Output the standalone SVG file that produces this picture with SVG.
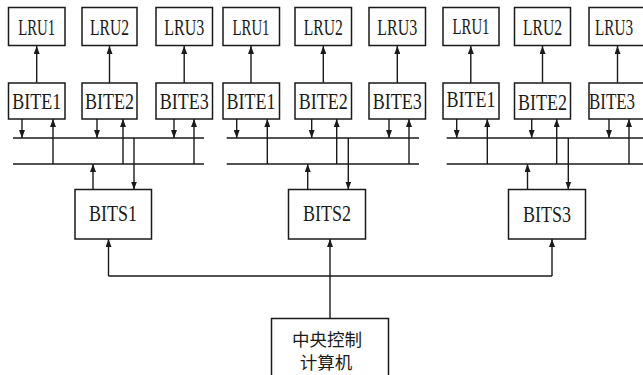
<svg xmlns="http://www.w3.org/2000/svg" width="643" height="375" viewBox="0 0 643 375">
<style>
.box{fill:#fff;stroke:#1a1a1a;stroke-width:1.5}
.ln{fill:none;stroke:#1a1a1a;stroke-width:1.4}
.ar{fill:none;stroke:#1a1a1a;stroke-width:1.4;marker-end:url(#ah)}
.t{font-family:"Liberation Serif","Times New Roman",serif;font-size:22.5px;fill:#1a1a1a;text-anchor:middle;dominant-baseline:central}
.c{font-family:"Noto Sans CJK SC","Noto Sans",sans-serif;font-size:17.5px;fill:#1a1a1a;text-anchor:middle;dominant-baseline:central}
</style>
<defs>
<marker id="ah" viewBox="0 0 8 6" refX="8" refY="3" markerWidth="8" markerHeight="6" markerUnits="userSpaceOnUse" orient="auto">
<path d="M0,0 L8,3 L0,6 z" fill="#1a1a1a"/>
</marker>
</defs>
<rect width="643" height="375" fill="#fff"/>
<g id="connectors">
<line class="ar" x1="36.7" y1="83" x2="36.7" y2="46"/>
<line class="ar" x1="109.5" y1="83" x2="109.5" y2="46"/>
<line class="ar" x1="184.2" y1="83" x2="184.2" y2="46"/>
<line class="ln" x1="13" y1="138" x2="204" y2="138"/>
<line class="ln" x1="13" y1="164" x2="204" y2="164"/>
<line class="ar" x1="22" y1="119" x2="22" y2="138"/>
<line class="ar" x1="53" y1="164" x2="53" y2="119"/>
<line class="ar" x1="97" y1="119" x2="97" y2="138"/>
<line class="ar" x1="123" y1="164" x2="123" y2="119"/>
<line class="ar" x1="174" y1="119" x2="174" y2="138"/>
<line class="ar" x1="194" y1="164" x2="194" y2="119"/>
<line class="ar" x1="134" y1="138" x2="134" y2="189.5"/>
<line class="ar" x1="93" y1="189.5" x2="93" y2="164"/>
<line class="ar" x1="251" y1="83" x2="251" y2="46"/>
<line class="ar" x1="323.3" y1="83" x2="323.3" y2="46"/>
<line class="ar" x1="397.3" y1="83" x2="397.3" y2="46"/>
<line class="ln" x1="226.7" y1="138" x2="419" y2="138"/>
<line class="ln" x1="226.7" y1="164" x2="419" y2="164"/>
<line class="ar" x1="236.7" y1="119" x2="236.7" y2="138"/>
<line class="ar" x1="267.3" y1="164" x2="267.3" y2="119"/>
<line class="ar" x1="311.7" y1="119" x2="311.7" y2="138"/>
<line class="ar" x1="336.7" y1="164" x2="336.7" y2="119"/>
<line class="ar" x1="389" y1="119" x2="389" y2="138"/>
<line class="ar" x1="409" y1="164" x2="409" y2="119"/>
<line class="ar" x1="348.3" y1="138" x2="348.3" y2="189.5"/>
<line class="ar" x1="307.7" y1="189.5" x2="307.7" y2="164"/>
<line class="ar" x1="470.8" y1="83" x2="470.8" y2="46"/>
<line class="ar" x1="542.5" y1="83" x2="542.5" y2="46"/>
<line class="ar" x1="617.5" y1="83" x2="617.5" y2="46"/>
<line class="ln" x1="446.7" y1="138" x2="643" y2="138"/>
<line class="ln" x1="446.7" y1="164" x2="643" y2="164"/>
<line class="ar" x1="456.7" y1="119" x2="456.7" y2="138"/>
<line class="ar" x1="487.3" y1="164" x2="487.3" y2="119"/>
<line class="ar" x1="531.7" y1="119" x2="531.7" y2="138"/>
<line class="ar" x1="556.7" y1="164" x2="556.7" y2="119"/>
<line class="ar" x1="609" y1="119" x2="609" y2="138"/>
<line class="ar" x1="629" y1="164" x2="629" y2="119"/>
<line class="ar" x1="568.3" y1="138" x2="568.3" y2="189.5"/>
<line class="ar" x1="527.5" y1="189.5" x2="527.5" y2="164"/>
<line class="ln" x1="108.5" y1="276" x2="552" y2="276"/>
<line class="ar" x1="108.5" y1="276" x2="108.5" y2="239"/>
<line class="ar" x1="552" y1="276" x2="552" y2="239"/>
<line class="ar" x1="330" y1="318.5" x2="330" y2="239"/>
</g>
<g id="g1-lru1"><rect class="box" x="8.5" y="7.5" width="56.5" height="38"/><text class="t" x="36.7" y="27" textLength="37" lengthAdjust="spacingAndGlyphs">LRU1</text></g>
<g id="g1-lru2"><rect class="box" x="82" y="7.5" width="55" height="38"/><text class="t" x="109.5" y="27" textLength="39" lengthAdjust="spacingAndGlyphs">LRU2</text></g>
<g id="g1-lru3"><rect class="box" x="156" y="7.5" width="56.5" height="38"/><text class="t" x="184.2" y="27" textLength="40" lengthAdjust="spacingAndGlyphs">LRU3</text></g>
<g id="g1-bite1"><rect class="box" x="8.5" y="83" width="56.5" height="36"/><text class="t" x="36.7" y="101" textLength="49" lengthAdjust="spacingAndGlyphs">BITE1</text></g>
<g id="g1-bite2"><rect class="box" x="82" y="83" width="55" height="36"/><text class="t" x="109.5" y="101" textLength="49" lengthAdjust="spacingAndGlyphs">BITE2</text></g>
<g id="g1-bite3"><rect class="box" x="156" y="83" width="56.5" height="36"/><text class="t" x="184.2" y="101" textLength="49" lengthAdjust="spacingAndGlyphs">BITE3</text></g>
<g id="bits1"><rect class="box" x="75" y="189.5" width="76.5" height="49.5"/><text class="t" x="113" y="213" textLength="48" lengthAdjust="spacingAndGlyphs">BITS1</text></g>
<g id="g2-lru1"><rect class="box" x="223" y="7.5" width="56.5" height="38"/><text class="t" x="251" y="27" textLength="37" lengthAdjust="spacingAndGlyphs">LRU1</text></g>
<g id="g2-lru2"><rect class="box" x="295" y="7.5" width="56.5" height="38"/><text class="t" x="323.3" y="27" textLength="39" lengthAdjust="spacingAndGlyphs">LRU2</text></g>
<g id="g2-lru3"><rect class="box" x="369" y="7.5" width="56.5" height="38"/><text class="t" x="397.3" y="27" textLength="40" lengthAdjust="spacingAndGlyphs">LRU3</text></g>
<g id="g2-bite1"><rect class="box" x="223" y="83" width="56.5" height="36"/><text class="t" x="251" y="101" textLength="49" lengthAdjust="spacingAndGlyphs">BITE1</text></g>
<g id="g2-bite2"><rect class="box" x="295" y="83" width="56.5" height="36"/><text class="t" x="323.3" y="101" textLength="49" lengthAdjust="spacingAndGlyphs">BITE2</text></g>
<g id="g2-bite3"><rect class="box" x="369" y="83" width="56.5" height="36"/><text class="t" x="397.3" y="101" textLength="49" lengthAdjust="spacingAndGlyphs">BITE3</text></g>
<g id="bits2"><rect class="box" x="288.5" y="189.5" width="77" height="49.5"/><text class="t" x="327" y="213" textLength="48" lengthAdjust="spacingAndGlyphs">BITS2</text></g>
<g id="g3-lru1"><rect class="box" x="443" y="7.5" width="56" height="38"/><text class="t" x="471" y="26" textLength="37" lengthAdjust="spacingAndGlyphs">LRU1</text></g>
<g id="g3-lru2"><rect class="box" x="514.5" y="7.5" width="56" height="38"/><text class="t" x="542.5" y="27.5" textLength="39" lengthAdjust="spacingAndGlyphs">LRU2</text></g>
<g id="g3-lru3"><rect class="box" x="589" y="7.5" width="57" height="38"/><text class="t" x="614" y="27.5" textLength="38" lengthAdjust="spacingAndGlyphs">LRU3</text></g>
<g id="g3-bite1"><rect class="box" x="443" y="83" width="56" height="36"/><text class="t" x="471" y="99" textLength="49" lengthAdjust="spacingAndGlyphs">BITE1</text></g>
<g id="g3-bite2"><rect class="box" x="514.5" y="83" width="56" height="36"/><text class="t" x="542.5" y="102" textLength="49" lengthAdjust="spacingAndGlyphs">BITE2</text></g>
<g id="g3-bite3"><rect class="box" x="589" y="83" width="57" height="36"/><text class="t" x="612" y="101" textLength="46" lengthAdjust="spacingAndGlyphs">BITE3</text></g>
<g id="bits3"><rect class="box" x="508.5" y="189.5" width="77" height="49.5"/><text class="t" x="547" y="214" textLength="48" lengthAdjust="spacingAndGlyphs">BITS3</text></g>
<g id="central"><rect class="box" x="271.5" y="318.5" width="117" height="62"/><text class="c" x="327" y="338">中央控制</text><text class="c" x="326" y="361">计算机</text></g>
</svg>
